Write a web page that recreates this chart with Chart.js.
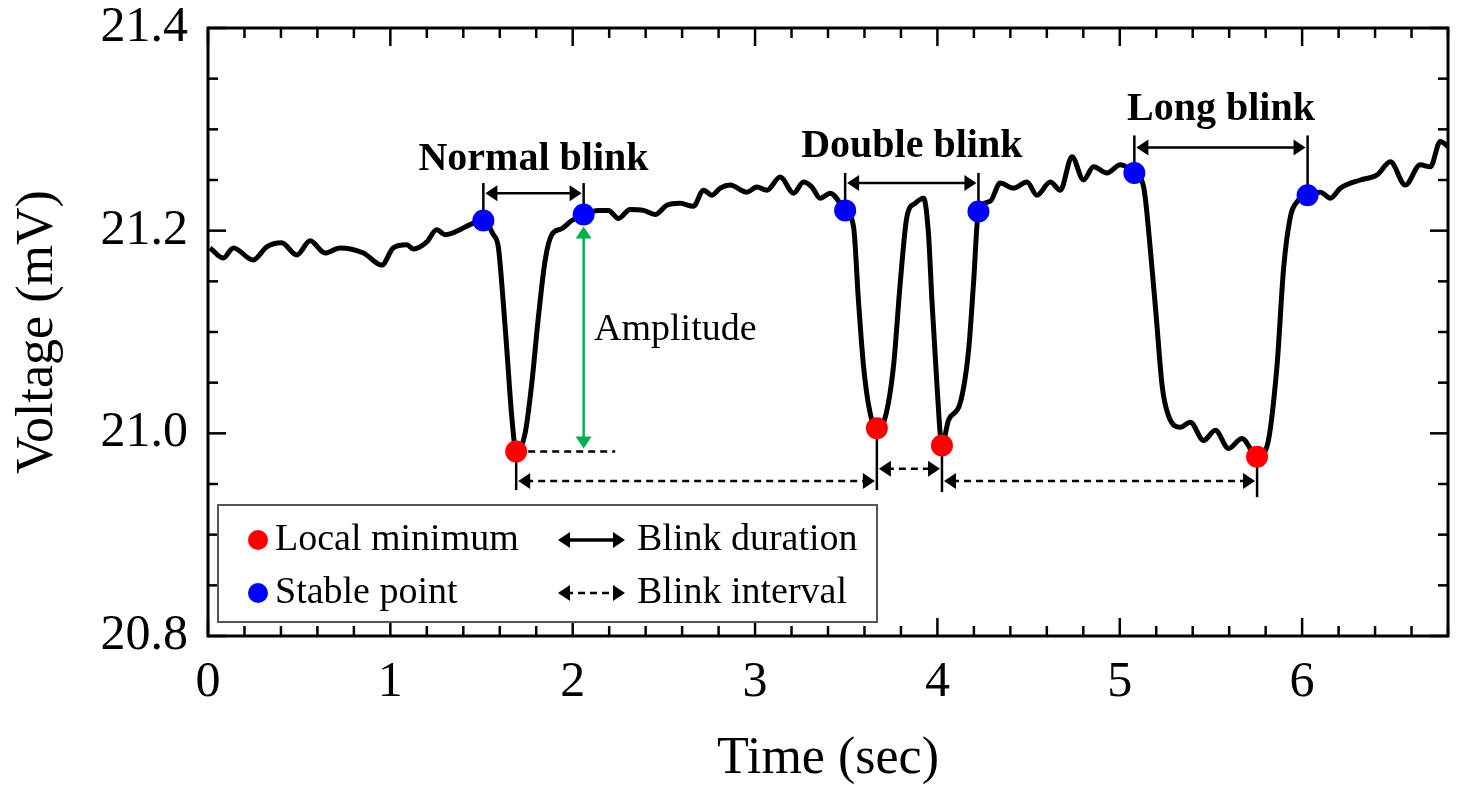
<!DOCTYPE html>
<html>
<head>
<meta charset="utf-8">
<script src="https://cdn.jsdelivr.net/npm/chart.js@4.4.1/dist/chart.umd.min.js"></script>
<style>
  html, body { margin: 0; padding: 0; background: #fff; }
</style>
</head>
<body>
<canvas id="myChart" width="1459" height="785"></canvas>
<script>
// signal trace
const timeSec = [0.011, 0.084, 0.139, 0.248, 0.322, 0.404, 0.487, 0.560, 0.642, 0.724,
  0.852, 0.953, 1.016, 1.090, 1.126, 1.200, 1.254, 1.300, 1.382, 1.437,
  1.510, 1.565, 1.592, 1.611, 1.639, 1.666, 1.690, 1.739, 1.776, 1.812,
  1.849, 1.885, 1.940, 1.995, 2.060, 2.141, 2.196, 2.251, 2.315, 2.388,
  2.452, 2.516, 2.589, 2.662, 2.717, 2.763, 2.809, 2.863, 2.955, 3.010,
  3.065, 3.138, 3.211, 3.266, 3.312, 3.357, 3.412, 3.494, 3.540, 3.567,
  3.595, 3.631, 3.668, 3.714, 3.759, 3.796, 3.833, 3.878, 3.924, 3.951,
  3.970, 3.997, 4.025, 4.061, 4.125, 4.171, 4.198, 4.225, 4.290, 4.344,
  4.417, 4.491, 4.546, 4.619, 4.674, 4.738, 4.801, 4.856, 4.930, 5.003,
  5.080, 5.131, 5.167, 5.200, 5.233, 5.266, 5.332, 5.387, 5.460, 5.524,
  5.597, 5.670, 5.753, 5.807, 5.862, 5.899, 5.936, 5.970, 6.030, 6.100,
  6.155, 6.210, 6.319, 6.411, 6.484, 6.566, 6.648, 6.703, 6.758, 6.800];
const voltage = [21.183, 21.173, 21.183, 21.171, 21.184, 21.188, 21.176, 21.190, 21.178, 21.183,
  21.178, 21.166, 21.183, 21.186, 21.182, 21.189, 21.201, 21.196, 21.201, 21.206,
  21.210, 21.196, 21.184, 21.148, 21.082, 21.016, 20.982, 21.000, 21.050, 21.115,
  21.171, 21.196, 21.202, 21.210, 21.216, 21.220, 21.220, 21.212, 21.221, 21.220,
  21.216, 21.225, 21.227, 21.224, 21.240, 21.235, 21.242, 21.245, 21.238, 21.243,
  21.240, 21.253, 21.237, 21.248, 21.243, 21.232, 21.237, 21.220, 21.204, 21.131,
  21.066, 21.020, 21.005, 21.016, 21.066, 21.148, 21.214, 21.227, 21.232, 21.197,
  21.131, 21.049, 20.988, 21.013, 21.030, 21.082, 21.148, 21.219, 21.229, 21.247,
  21.242, 21.248, 21.235, 21.248, 21.240, 21.273, 21.250, 21.263, 21.257, 21.265,
  21.257, 21.243, 21.183, 21.115, 21.046, 21.018, 21.006, 21.011, 20.993, 21.003,
  20.985, 20.995, 20.977, 20.987, 21.066, 21.164, 21.214, 21.228, 21.235, 21.238,
  21.232, 21.242, 21.250, 21.255, 21.268, 21.245, 21.265, 21.263, 21.288, 21.283];

// marked points
const minTime = [1.690, 3.668, 4.025, 5.753];
const minVolt = [20.982, 21.005, 20.988, 20.977];
const stableTime = [1.510, 2.060, 3.494, 4.225, 5.080, 6.030];
const stableVolt = [21.210, 21.216, 21.220, 21.219, 21.257, 21.235];

// annotations
const blinkNames = ["Normal blink", "Double blink", "Long blink"];
const durationLevel = [21.237, 21.247, 21.282];
const durationTop = [21.247, 21.257, 21.294];
const blinkLabelLevel = [21.270, 21.283, 21.319];
const intervalLevel = [20.953, 20.965, 20.953];
const intervalBottom = [20.944, 20.944, 20.942, 20.937];
const amplitudeDashEnd = 2.233;
const amplitudeLabel = [2.117, 21.102];

const xTicks = [0, 1, 2, 3, 4, 5, 6];
const yTicks = [20.8, 21.0, 21.2, 21.4];

const serif = "'Liberation Serif', 'Times New Roman', serif";

function seg(ctx, x1, y1, x2, y2) {
  ctx.beginPath();
  ctx.moveTo(x1, y1);
  ctx.lineTo(x2, y2);
  ctx.stroke();
}

function head(ctx, x, y, dir, len, half) {
  // dir: 1 points right, -1 left, 2 up, -2 down
  ctx.beginPath();
  if (dir === 1 || dir === -1) {
    ctx.moveTo(x, y);
    ctx.lineTo(x - dir * len, y - half);
    ctx.lineTo(x - dir * len, y + half);
  } else {
    const d = dir === 2 ? -1 : 1;
    ctx.moveTo(x, y);
    ctx.lineTo(x - half, y - d * len);
    ctx.lineTo(x + half, y - d * len);
  }
  ctx.closePath();
  ctx.fill();
}

function hArrow(ctx, x1, x2, y, dashed, lw) {
  ctx.save();
  ctx.lineWidth = lw;
  if (dashed) ctx.setLineDash([7, 5]);
  seg(ctx, x1 + 8, y, x2 - 8, y);
  ctx.setLineDash([]);
  head(ctx, x1, y, -1, 12, 8);
  head(ctx, x2, y, 1, 12, 8);
  ctx.restore();
}

const decorations = {
  id: "decorations",
  beforeDatasetsDraw(chart) {
    const { ctx, scales: { x, y } } = chart;
    ctx.save();
    ctx.strokeStyle = "#000";
    ctx.fillStyle = "#000";

    // blink duration markers
    for (let i = 0; i < 3; i++) {
      const a = i * 2, b = i * 2 + 1;
      const xa = x.getPixelForValue(stableTime[a]);
      const xb = x.getPixelForValue(stableTime[b]);
      ctx.lineWidth = 2.5;
      seg(ctx, xa, y.getPixelForValue(durationTop[i]), xa, y.getPixelForValue(stableVolt[a]));
      seg(ctx, xb, y.getPixelForValue(durationTop[i]), xb, y.getPixelForValue(stableVolt[b]));
      hArrow(ctx, xa + 2, xb - 2, y.getPixelForValue(durationLevel[i]), false, 2.5);
      ctx.font = "bold 40px " + serif;
      ctx.textAlign = "center";
      ctx.textBaseline = "middle";
      ctx.fillText(blinkNames[i], (xa + xb) / 2, y.getPixelForValue(blinkLabelLevel[i]));
    }

    // blink interval markers
    ctx.lineWidth = 2.5;
    for (let i = 0; i < 4; i++) {
      const px = x.getPixelForValue(minTime[i]);
      seg(ctx, px, y.getPixelForValue(minVolt[i]), px, y.getPixelForValue(intervalBottom[i]));
    }
    for (let i = 0; i < 3; i++) {
      const x1 = x.getPixelForValue(minTime[i]) + 2;
      const x2 = x.getPixelForValue(minTime[i + 1]) - 2;
      hArrow(ctx, x1, x2, y.getPixelForValue(intervalLevel[i]), true, 2.5);
    }

    // amplitude
    const ax = x.getPixelForValue(stableTime[1]);
    const yTop = y.getPixelForValue(stableVolt[1]) + 12;
    const yBot = y.getPixelForValue(minVolt[0]) - 3;
    ctx.save();
    ctx.lineWidth = 2.5;
    ctx.setLineDash([7, 5]);
    seg(ctx, x.getPixelForValue(minTime[0]), y.getPixelForValue(minVolt[0]),
      x.getPixelForValue(amplitudeDashEnd), y.getPixelForValue(minVolt[0]));
    ctx.restore();
    ctx.strokeStyle = "#00b050";
    ctx.fillStyle = "#00b050";
    ctx.lineWidth = 2.5;
    seg(ctx, ax, yTop + 10, ax, yBot - 10);
    head(ctx, ax, yTop, 2, 12, 8);
    head(ctx, ax, yBot, -2, 12, 8);
    ctx.fillStyle = "#000";
    ctx.font = "38px " + serif;
    ctx.textAlign = "left";
    ctx.textBaseline = "middle";
    ctx.fillText("Amplitude", x.getPixelForValue(amplitudeLabel[0]), y.getPixelForValue(amplitudeLabel[1]));
    ctx.restore();
  },
  afterDraw(chart) {
    const { ctx, chartArea: a, scales: { x, y } } = chart;
    ctx.save();
    ctx.strokeStyle = "#000";
    ctx.fillStyle = "#000";
    ctx.lineWidth = 2.5;

    // inward ticks on all four sides
    for (let i = 0; i <= 34; i++) {
      const px = x.getPixelForValue(i * 0.2);
      const len = i % 5 === 0 ? 18 : 10;
      seg(ctx, px, a.bottom, px, a.bottom - len);
      seg(ctx, px, a.top, px, a.top + len);
    }
    for (let i = 0; i <= 12; i++) {
      const py = y.getPixelForValue(20.8 + i * 0.05);
      const len = i % 4 === 0 ? 18 : 10;
      seg(ctx, a.left, py, a.left + len, py);
      seg(ctx, a.right, py, a.right - len, py);
    }

    // legend box
    const L = a.left + 10, T = a.bottom - 131, R = a.left + 669, B = a.bottom - 14;
    ctx.fillStyle = "#fff";
    ctx.fillRect(L, T, R - L, B - T);
    ctx.strokeStyle = "#555";
    ctx.lineWidth = 2;
    ctx.strokeRect(L, T, R - L, B - T);

    const row1 = a.bottom - 96, row2 = a.bottom - 43;
    ctx.fillStyle = "#ff0000";
    ctx.beginPath(); ctx.arc(a.left + 50, row1, 10, 0, Math.PI * 2); ctx.fill();
    ctx.fillStyle = "#0000ff";
    ctx.beginPath(); ctx.arc(a.left + 50, row2, 10, 0, Math.PI * 2); ctx.fill();

    ctx.fillStyle = "#000";
    ctx.strokeStyle = "#000";
    ctx.font = "38px " + serif;
    ctx.textAlign = "left";
    ctx.textBaseline = "middle";
    ctx.fillText("Local minimum", a.left + 67, row1);
    ctx.fillText("Stable point", a.left + 67, row2);
    ctx.fillText("Blink duration", a.left + 429, row1);
    ctx.fillText("Blink interval", a.left + 429, row2);
    hArrow(ctx, a.left + 350, a.left + 417, row1, false, 3.5);
    hArrow(ctx, a.left + 350, a.left + 417, row2, true, 2.5);

    // frame
    ctx.strokeStyle = "#000";
    ctx.lineWidth = 3;
    ctx.strokeRect(a.left, a.top, a.right - a.left, a.bottom - a.top);
    ctx.restore();
  }
};

const ctx = document.getElementById("myChart");

const chart = new Chart(ctx, {
  type: "scatter",
  data: {
    datasets: [
      {
        label: "Local minimum",
        data: minTime.map((t, i) => ({ x: t, y: minVolt[i] })),
        backgroundColor: "#ff0000",
        borderWidth: 0,
        pointRadius: 11,
        showLine: false,
      },
      {
        label: "Stable point",
        data: stableTime.map((t, i) => ({ x: t, y: stableVolt[i] })),
        backgroundColor: "#0000ff",
        borderWidth: 0,
        pointRadius: 11,
        showLine: false,
      },
      {
        label: "Voltage",
        data: timeSec.map((t, i) => ({ x: t, y: voltage[i] })),
        borderColor: "#000",
        borderWidth: 5,
        pointRadius: 0,
        showLine: true,
        cubicInterpolationMode: "monotone",
      },
    ],
  },
  options: {
    responsive: false,
    animation: false,
    devicePixelRatio: 1,
    layout: { padding: { top: 28, right: 11, left: 0, bottom: 0 } },
    plugins: {
      legend: { display: false },
      tooltip: { enabled: false },
    },
    scales: {
      x: {
        type: "linear",
        min: 0,
        max: 6.8,
        afterFit: (s) => { s.height = 149; s.paddingLeft = 0; s.paddingRight = 0; },
        afterBuildTicks: (s) => { s.ticks = xTicks.map((v) => ({ value: v })); },
        grid: { display: false, drawTicks: false },
        border: { display: false },
        ticks: {
          color: "#000",
          padding: 22,
          font: { family: serif, size: 50, lineHeight: 1 },
          maxRotation: 0,
          callback: (v) => String(v),
        },
        title: {
          display: true,
          text: "Time (sec)",
          color: "#000",
          font: { family: serif, size: 52, lineHeight: 1 },
          padding: { top: 0, bottom: 0 },
        },
      },
      y: {
        min: 20.8,
        max: 21.4,
        afterFit: (s) => { s.width = 208; s.paddingTop = 0; s.paddingBottom = 0; },
        afterBuildTicks: (s) => { s.ticks = yTicks.map((v) => ({ value: v })); },
        grid: { display: false, drawTicks: false },
        border: { display: false },
        ticks: {
          color: "#000",
          padding: 20,
          font: { family: serif, size: 50, lineHeight: 1 },
          callback: (v) => Number(v).toFixed(1),
        },
        title: {
          display: true,
          text: "Voltage (mV)",
          color: "#000",
          font: { family: serif, size: 52, lineHeight: 1 },
          padding: { top: 12, bottom: 0 },
        },
      },
    },
  },
  plugins: [decorations],
});
</script>
</body>
</html>
